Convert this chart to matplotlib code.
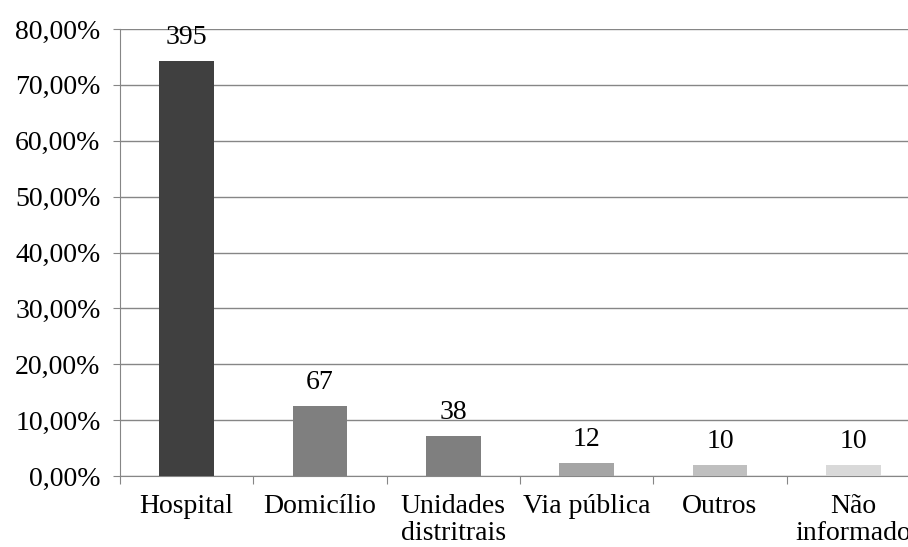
import matplotlib.pyplot as plt
from matplotlib.ticker import FuncFormatter

categorias = ['Hospital', 'Domicílio', 'Unidades\ndistritrais', 'Via pública', 'Outros', 'Não\ninformado']
obitos = [395, 67, 38, 12, 10, 10]
cores = ['#404040', '#7f7f7f', '#7f7f7f', '#a5a5a5', '#bfbfbf', '#d9d9d9']

total = sum(obitos)
percentual = [v / total * 100 for v in obitos]

plt.rcParams['font.family'] = ['Liberation Serif', 'DejaVu Serif']
fs = 20

fig = plt.figure(figsize=(9.08, 5.47), dpi=100)
ax = fig.add_axes([120 / 908, 71 / 547, 800 / 908, 447 / 547])

x = range(len(categorias))
ax.bar(x, percentual, width=0.41, color=cores, zorder=3)

for xi, p, n in zip(x, percentual, obitos):
    ax.annotate(str(n), (xi, p), xytext=(0, 8), textcoords='offset points',
                ha='center', va='bottom', fontsize=fs)

ax.set_xlim(-0.5, len(categorias) - 0.5)
ax.set_ylim(0, 80)
ax.set_yticks(range(0, 81, 10))
ax.yaxis.set_major_formatter(FuncFormatter(lambda v, _: f'{v:.2f}%'.replace('.', ',')))
ax.grid(axis='y', color='#868686', lw=1, zorder=0)

# ticks do eixo x nas divisas entre categorias
ax.set_xticks([i - 0.5 for i in range(len(categorias) + 1)])
ax.set_xticklabels([])
ax.set_xticks(list(x), minor=True)
ax.set_xticklabels(categorias, minor=True, fontsize=fs, linespacing=1.1)
ax.tick_params(axis='x', which='minor', length=0, pad=13)
ax.tick_params(axis='x', which='major', length=6, color='#868686')
ax.tick_params(axis='y', length=5, color='#868686', labelsize=fs, pad=9)

for s in ['top', 'right']:
    ax.spines[s].set_visible(False)
ax.spines['left'].set_color('#868686')
ax.spines['bottom'].set_color('#868686')

fig.savefig('out.png', dpi=100)
